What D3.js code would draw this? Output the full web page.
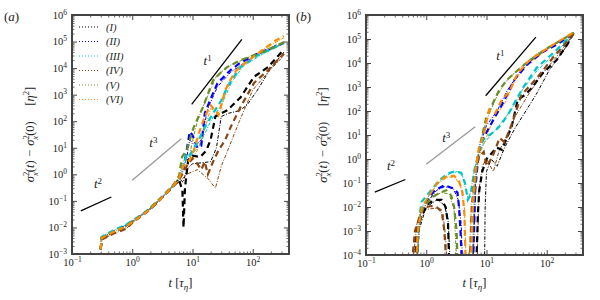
<!DOCTYPE html>
<html>
<head>
<meta charset="utf-8">
<script src="https://cdn.jsdelivr.net/npm/d3@7"></script>
<style>
body { margin: 0; background: #fff; }
svg text { font-family: "Liberation Serif", "Times New Roman", serif; fill: #222; }
</style>
</head>
<body>
<svg id="chart" width="600" height="300" font-family="Liberation Serif, serif"></svg>
<script>
// series names / colours
var seriesNames = ["(I)", "(II)", "(III)", "(IV)", "(V)", "(VI)"];
var seriesColors = ["#000000", "#0000ff", "#00c5c5", "#8b4513", "#6b8e23", "#ff8c00"];

// panel (a): thick dashed curves, t in tau_eta, value in eta^2
var aMainI = [[0.3,1.5e-3],[0.31,4e-3],[0.5,7e-3],[0.8,1.1e-2],[1,1.6e-2],[1.5,3e-2],[2,5e-2],[3,1.2e-1],[5,4e-1],[6,0.6],[6.8,0.25],[7.1,0.01],[7.5,0.3],[8.5,3.5],[10,5],[13.5,4.5],[17,8],[20,20],[24,150],[30,200],[38,260],[63,800],[105,4700],[180,1.1e4],[330,5e4]];
var aMainII = [[0.3,1.5e-3],[0.31,4e-3],[0.5,7e-3],[0.8,1.2e-2],[1,1.7e-2],[1.5,3e-2],[2,5e-2],[3,1.2e-1],[5,4e-1],[6,0.7],[7,1.5],[8,8],[9,40],[10,30],[12,10],[14,12],[16,200],[20,700],[26,2700],[43,8500],[60,1.5e4],[110,3.2e4],[200,5.5e4],[330,9e4]];
var aMainIII = [[0.3,1.5e-3],[0.31,4.5e-3],[0.5,8e-3],[0.8,1.3e-2],[1,1.8e-2],[1.5,3.2e-2],[2,5.5e-2],[3,1.3e-1],[5,4e-1],[6,0.7],[7,2],[8,6],[9,5],[10,8],[12,15],[16,60],[22,200],[30,600],[38,2000],[63,1.1e4],[120,3e4],[200,5e4],[330,9e4]];
var aMainIV = [[0.3,1.5e-3],[0.31,3.5e-3],[0.5,6e-3],[0.8,0.9e-2],[1,1.5e-2],[1.5,3e-2],[2,5e-2],[3,1.2e-1],[5,4e-1],[6,0.6],[7,1.2],[8,2],[10,4],[12,2.5],[14,1.5],[16,3],[18,1],[22,3],[27,8],[35,20],[43,60],[63,350],[105,2750],[180,8500],[330,3.5e4]];
var aMainV = [[0.3,1.5e-3],[0.31,4e-3],[0.5,7e-3],[0.8,1.1e-2],[1,1.7e-2],[1.5,3e-2],[2,5.5e-2],[3,1.3e-1],[5,4.5e-1],[6,0.9],[6.7,4.5],[8,8],[10.5,60],[15,350],[22,3500],[30,7000],[38,1.1e4],[63,2e4],[180,4.8e4],[330,9.5e4]];
var aMainVI = [[0.3,1.5e-3],[0.31,4e-3],[0.5,7e-3],[0.8,1.1e-2],[1,1.6e-2],[1.5,3e-2],[2,5e-2],[3,1.2e-1],[5,4e-1],[6,0.7],[7,2],[9,3.5],[10.5,8],[13,40],[16,150],[20,400],[24,250],[27,170],[35,1500],[50,7000],[68,1.3e4],[120,3.5e4],[240,1.1e5],[330,1.6e5]];

// panel (a): thin dash-dot curves
var aAltI = [[0.3,1.5e-3],[0.31,4e-3],[0.5,7e-3],[0.8,1.1e-2],[1,1.6e-2],[2,5e-2],[3,1.2e-1],[5,4e-1],[6,0.7],[7,0.5],[8,1.5],[10,2.5],[14,2.7],[20,3],[25,10],[30,150],[40,200],[60,250],[80,400],[120,1500],[200,1e4],[330,4e4]];
var aAltII = [[0.3,1.5e-3],[0.31,4e-3],[0.5,7e-3],[0.8,1.2e-2],[1,1.7e-2],[2,5e-2],[3,1.2e-1],[5,4e-1],[6,0.6],[8,4],[9,20],[11,12],[14,20],[18,300],[26,2000],[43,7000],[110,3e4],[330,8.5e4]];
var aAltIII = [[0.3,1.5e-3],[0.31,4.5e-3],[0.5,8e-3],[0.8,1.3e-2],[1,1.8e-2],[2,5.5e-2],[3,1.3e-1],[5,4e-1],[6,0.6],[8,4],[10,6],[13,12],[20,100],[30,400],[45,3000],[70,1.2e4],[150,3.5e4],[330,8.5e4]];
var aAltIV = [[0.3,1.5e-3],[0.31,3.5e-3],[0.5,6e-3],[0.8,0.9e-2],[1,1.5e-2],[2,5e-2],[3,1.2e-1],[5,4e-1],[6,0.5],[8,1],[12,1.5],[18,0.7],[24,0.3],[30,2],[40,10],[60,100],[100,1500],[180,7000],[330,3e4]];
var aAltV = [[0.3,1.5e-3],[0.31,4e-3],[0.5,7e-3],[0.8,1.1e-2],[1,1.7e-2],[2,5.5e-2],[3,1.3e-1],[5,4.5e-1],[6,0.8],[7,3],[9,6],[12,100],[17,700],[25,5000],[40,1.2e4],[100,3e4],[330,1e5]];
var aAltVI = [[0.3,1.5e-3],[0.31,4e-3],[0.5,7e-3],[0.8,1.1e-2],[1,1.6e-2],[2,5e-2],[3,1.2e-1],[5,4e-1],[6,0.6],[8,2.5],[10,4],[12,8],[15,30],[20,300],[28,200],[40,3000],[60,1.2e4],[150,5e4],[330,1.4e5]];

// panel (b): thick dashed curves (null = value negative, not drawn)
var bMainI = [[0.65,5e-5],[0.7,1e-3],[0.85,5e-3],[1.1,1.5e-2],[1.5,2e-2],[1.8,2e-2],[2.1,1e-2],[2.3,2e-3],[2.4,5e-5],null,[6.8,5e-5],[7.2,5e-3],[7.6,0.05],[8.5,0.3],[10,1],[14.7,3],[18,2.4],[22,8],[26,21],[33,290],[45,500],[56,900],[86,3800],[145,1.3e4],[220,6e4],[280,1.8e5]];
var bMainII = [[0.7,5e-5],[0.75,2e-3],[0.9,1e-2],[1.1,2.5e-2],[1.4,5e-2],[2,8e-2],[2.8,6e-2],[3.3,4e-2],[3.5,1e-2],[3.7,1e-3],[3.9,5e-5],null,[6,5e-5],[6.5,0.05],[7,0.4],[7.5,2],[9,8],[11,20],[14,60],[18,180],[29,2000],[46,8000],[86,2.9e4],[150,6e4],[280,1.8e5]];
var bMainIII = [[0.7,5e-5],[0.75,2e-3],[0.83,1.6e-2],[1.2,5e-2],[1.65,0.13],[2.3,0.25],[2.9,0.3],[3.8,0.27],[4.4,0.1],[4.9,0.02],[5.4,0.03],[6.3,0.35],[7.5,2],[8.6,6],[10,8],[14,15],[18,30],[24,90],[40,900],[68,6300],[145,3.5e4],[280,1.8e5]];
var bMainIV = [[0.58,5e-5],[0.65,1e-3],[0.86,9e-3],[1.2,1.1e-2],[1.47,1e-2],[1.8,7e-3],[2,1e-3],[2.15,5e-5],null,[5.3,5e-5],[5.7,1e-2],[6.5,0.3],[7.5,1.2],[9,2],[10,0.5],[12.5,1.2],[16.5,7.5],[20,5],[25,20],[38,460],[71,2600],[125,1.6e4],[200,6e4],[280,1.7e5]];
var bMainV = [[0.7,5e-5],[0.75,2e-3],[0.9,1e-2],[1.27,2.6e-2],[1.7,4e-2],[2.15,5e-2],[2.6,3e-2],[2.9,1e-2],[3.2,1e-3],[3.3,5e-5],null,[5.6,5e-5],[6,1e-2],[6.5,0.1],[7,1],[8,5],[10,60],[12,150],[16,700],[22,2000],[30,4000],[50,1.2e4],[100,4e4],[280,1.8e5]];
var bMainVI = [[0.68,5e-5],[0.72,1e-3],[0.85,1e-2],[1.2,4e-2],[1.65,0.13],[2.3,0.2],[2.9,0.2],[3.5,0.12],[4,0.04],[4.3,5e-3],[4.5,5e-5],null,[5.5,5e-5],[5.8,5e-3],[6.5,0.3],[7.5,3],[9,10],[11,110],[14,80],[18,300],[24,630],[33,3800],[52,1.3e4],[110,4.6e4],[280,1.9e5]];

// panel (b): thin dash-dot curves
var bAltI = [[0.7,5e-5],[0.75,1e-3],[1,1e-2],[1.5,2e-2],[2,1.2e-2],[2.3,3e-3],[2.5,5e-5],null,[9.3,5e-5],[9.5,1e-2],[10,0.3],[12,1],[15,0.5],[20,3],[30,20],[45,100],[70,600],[110,5000],[200,4e4],[280,1.7e5]];
var bAltII = [[0.7,5e-5],[0.8,5e-3],[1.1,2e-2],[1.5,5e-2],[2,7e-2],[2.8,6e-2],[3.4,2e-2],[3.8,2e-3],[4,5e-5],null,[6,5e-5],[6.6,0.1],[7.5,3],[10,25],[15,100],[22,700],[35,4000],[60,1.5e4],[120,5e4],[280,1.8e5]];
var bAltIII = [[0.7,5e-5],[0.8,8e-3],[1.2,4e-2],[1.7,0.12],[2.5,0.25],[3.3,0.3],[4,0.2],[4.6,0.05],[5,0.02],[5.5,0.05],[6.5,0.5],[8,3],[10,6],[15,20],[25,100],[40,800],[70,5000],[150,3e4],[280,1.8e5]];
var bAltIV = [[0.6,5e-5],[0.7,2e-3],[1,8e-3],[1.5,9e-3],[1.9,5e-3],[2.1,5e-4],[2.2,5e-5],null,[7,5e-5],[7.5,0.05],[8.5,0.5],[10,1],[13,0.3],[16,2],[22,10],[30,60],[50,500],[80,3000],[150,2e4],[280,1.6e5]];
var bAltV = [[0.7,5e-5],[0.8,6e-3],[1.2,2.5e-2],[1.8,4e-2],[2.4,3.5e-2],[2.9,8e-3],[3.2,5e-5],null,[5.8,5e-5],[6.3,0.05],[7,0.8],[8,6],[10,40],[14,300],[20,1500],[35,6000],[70,2.5e4],[280,1.8e5]];
var bAltVI = [[0.68,5e-5],[0.78,5e-3],[1.1,3e-2],[1.6,0.1],[2.3,0.18],[3,0.17],[3.7,0.08],[4.3,0.01],[4.6,5e-5],null,[5.2,5e-5],[5.6,0.01],[6.5,0.2],[8,2],[10,8],[13,50],[20,200],[30,2000],[50,1e4],[110,4e4],[280,1.9e5]];

// power-law guide lines
var refT2 = [[0.14,0.042],[0.45,0.14]];
var refT3 = [[1.0,0.6],[6.5,22]];
var refT1 = [[9.7,430],[66,1.2e5]];

var svg = d3.select("#chart");
var serif = "Liberation Serif, serif";

function drawPanel(p) {
    var x = d3.scaleLog().domain([0.1, 400]).range([p.left, p.right]);
    var y = d3.scaleLog().domain(p.yDomain).range([p.bottom, p.top]);
    var w = p.right - p.left, h = p.bottom - p.top;

    svg.append("clipPath").attr("id", p.id)
        .append("rect").attr("x", p.left).attr("y", p.top).attr("width", w).attr("height", h);

    var line = d3.line()
        .defined(function (d) { return d !== null; })
        .x(function (d) { return x(d[0]); })
        .y(function (d) { return y(d[1]); });

    var plot = svg.append("g").attr("clip-path", "url(#" + p.id + ")");

    // reference lines
    plot.append("path").attr("d", line(refT2)).attr("stroke", "#000").attr("stroke-width", 1.3).attr("fill", "none");
    plot.append("path").attr("d", line(refT3)).attr("stroke", "#999").attr("stroke-width", 1.3).attr("fill", "none");
    plot.append("path").attr("d", line(refT1)).attr("stroke", "#000").attr("stroke-width", 1.3).attr("fill", "none");

    p.alt.forEach(function (c, i) {
        plot.append("path").attr("d", line(c))
            .attr("fill", "none").attr("stroke", seriesColors[i])
            .attr("stroke-width", 1).attr("stroke-dasharray", "3.5,1.5,1,1.5");
    });
    p.main.forEach(function (c, i) {
        plot.append("path").attr("d", line(c))
            .attr("fill", "none").attr("stroke", seriesColors[i])
            .attr("stroke-width", 2.2).attr("stroke-dasharray", "6,4");
    });

    // guide labels
    p.guideLabels.forEach(function (l) {
        var t = svg.append("text").attr("x", x(l.at[0])).attr("y", y(l.at[1]))
            .attr("text-anchor", "middle").attr("font-size", "13px").attr("font-family", serif);
        t.append("tspan").attr("font-style", "italic").text("t");
        t.append("tspan").attr("dy", "-0.45em").attr("font-size", "9px").text(l.exp);
    });

    // axes: ticks inward on all four sides
    var xt = x.ticks();
    var yt = y.ticks(50);
    function isMajor(v) { return Math.abs(Math.log10(v) - Math.round(Math.log10(v))) < 1e-6; }

    function sup(sel, exp) {
        sel.text(null);
        sel.append("tspan").text("10");
        sel.append("tspan").attr("dy", "-0.55em").attr("font-size", "7.5px").text(exp);
    }
    function expOf(v) { var e = Math.round(Math.log10(v)); return e < 0 ? "\u2212" + (-e) : "" + e; }

    var axes = [
        {ax: d3.axisBottom(x), tr: "translate(0," + p.bottom + ")", ticks: xt, label: true},
        {ax: d3.axisTop(x), tr: "translate(0," + p.top + ")", ticks: xt, label: false},
        {ax: d3.axisLeft(y), tr: "translate(" + p.left + ",0)", ticks: yt, label: true},
        {ax: d3.axisRight(y), tr: "translate(" + p.right + ",0)", ticks: yt, label: false}
    ];
    axes.forEach(function (a) {
        var maj = a.ticks.filter(isMajor), min = a.ticks.filter(function (v) { return !isMajor(v); });
        var gMin = svg.append("g").attr("transform", a.tr)
            .call(a.ax.tickValues(min).tickSize(-2.5).tickFormat(""));
        gMin.select(".domain").remove();
        gMin.selectAll("line").attr("stroke", "#444").attr("stroke-width", 0.8);
        var gMaj = svg.append("g").attr("transform", a.tr)
            .call(a.ax.tickValues(maj).tickSize(-5).tickPadding(5).tickFormat(function (v) { return v; }));
        gMaj.select(".domain").remove();
        gMaj.selectAll("line").attr("stroke", "#444").attr("stroke-width", 1);
        gMaj.attr("font-family", serif).attr("font-size", null);
        if (a.label) {
            gMaj.selectAll(".tick text").attr("font-size", "10.5px").attr("fill", "#222")
                .each(function (v) { sup(d3.select(this), expOf(v)); });
        } else {
            gMaj.selectAll(".tick text").remove();
        }
    });

    // frame
    svg.append("rect").attr("x", p.left).attr("y", p.top).attr("width", w).attr("height", h)
        .attr("fill", "none").attr("stroke", "#444").attr("stroke-width", 2);

    // x title
    var xtTxt = svg.append("text").attr("x", (p.left + p.right) / 2).attr("y", 287)
        .attr("text-anchor", "middle").attr("font-size", "12.5px").attr("font-family", serif);
    xtTxt.append("tspan").attr("font-style", "italic").text("t");
    xtTxt.append("tspan").text(" [");
    xtTxt.append("tspan").attr("font-style", "italic").text("\u03c4");
    xtTxt.append("tspan").attr("font-style", "italic").attr("font-size", "9px").attr("dy", "3").text("\u03b7");
    xtTxt.append("tspan").attr("dy", "-3").text("]");

    // y title
    var ytTxt = svg.append("text")
        .attr("transform", "translate(" + p.ytx + "," + ((p.top + p.bottom) / 2) + ") rotate(-90)")
        .attr("text-anchor", "middle").attr("font-size", "12.5px").attr("font-family", serif);
    [0, 1].forEach(function (k) {
        ytTxt.append("tspan").attr("font-style", "italic").text(k === 0 ? "\u03c3" : " \u2212 \u03c3");
        ytTxt.append("tspan").attr("font-size", "8.5px").attr("dy", "-5").text("2");
        ytTxt.append("tspan").attr("font-size", "8.5px").attr("font-style", "italic").attr("dx", "-4.3").attr("dy", "9").text("x");
        ytTxt.append("tspan").attr("dy", "-4").text("(");
        ytTxt.append("tspan").attr("font-style", k === 0 ? "italic" : null).text(k === 0 ? "t" : "0");
        ytTxt.append("tspan").text(")");
    });
    ytTxt.append("tspan").text("\u2003 [");
    ytTxt.append("tspan").attr("font-style", "italic").text("\u03b7");
    ytTxt.append("tspan").attr("font-size", "8.5px").attr("dy", "-5").text("2");
    ytTxt.append("tspan").attr("dy", "5").text("]");

    // panel label
    var lab = svg.append("text").attr("x", p.labelX).attr("y", 21).attr("font-size", "13px").attr("font-family", serif);
    lab.append("tspan").text("(");
    lab.append("tspan").attr("font-style", "italic").text(p.label);
    lab.append("tspan").text(")");

    return {x: x, y: y};
}

drawPanel({
    id: "clipA", left: 72, right: 289, top: 15, bottom: 254, yDomain: [1e-3, 1e6],
    main: [aMainI, aMainII, aMainIII, aMainIV, aMainV, aMainVI],
    alt: [aAltI, aAltII, aAltIII, aAltIV, aAltV, aAltVI],
    guideLabels: [{at: [0.27, 0.31], exp: "2"}, {at: [2.24, 10.7], exp: "3"}, {at: [17.8, 1.3e4], exp: "1"}],
    ytx: 34, label: "a", labelX: 4
});
drawPanel({
    id: "clipB", left: 366, right: 583, top: 15, bottom: 255, yDomain: [1e-4, 1e6],
    main: [bMainI, bMainII, bMainIII, bMainIV, bMainV, bMainVI],
    alt: [bAltI, bAltII, bAltIII, bAltIV, bAltV, bAltVI],
    guideLabels: [{at: [0.26, 0.35], exp: "2"}, {at: [2.15, 5.1], exp: "3"}, {at: [17, 1.3e4], exp: "1"}],
    ytx: 327, label: "b", labelX: 296
});

// legend in panel (a)
var legend = svg.append("g").selectAll("g").data(seriesNames).enter().append("g")
    .attr("transform", function (d, i) { return "translate(79," + (27 + i * 14.5) + ")"; });
legend.append("line").attr("x1", 0).attr("x2", 20).attr("y1", 0).attr("y2", 0)
    .attr("stroke", function (d, i) { return seriesColors[i]; })
    .attr("stroke-width", 1).attr("stroke-dasharray", "1,2");
legend.append("text").attr("x", 27).attr("y", 3.5).attr("font-size", "10.5px").attr("font-family", serif)
    .attr("font-style", "italic").text(function (d) { return d; });
</script>
</body>
</html>
